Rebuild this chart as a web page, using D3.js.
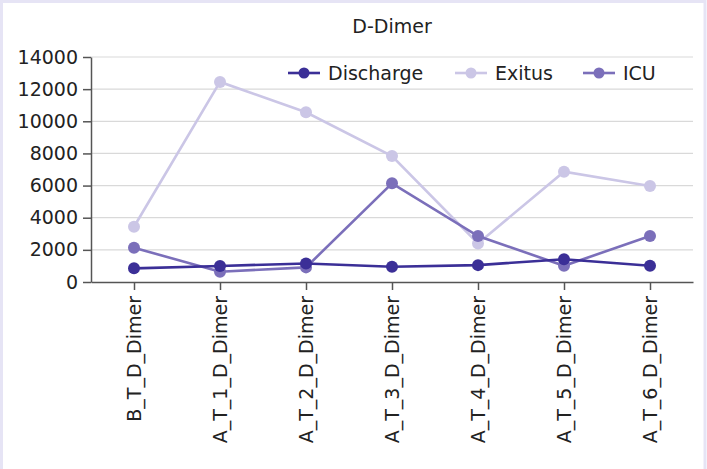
<!DOCTYPE html>
<html>
<head>
<meta charset="utf-8">
<script src="https://cdn.jsdelivr.net/npm/d3@7"></script>
<style>
html,body{margin:0;padding:0;background:#fff;}
svg{display:block;}
text{font-family:"DejaVu Sans",Verdana,sans-serif;fill:#222;}
</style>
</head>
<body>
<svg id="chart" width="707" height="469"></svg>
<script>
const categories = ["B_T_D_Dimer","A_T_1_D_Dimer","A_T_2_D_Dimer","A_T_3_D_Dimer","A_T_4_D_Dimer","A_T_5_D_Dimer","A_T_6_D_Dimer"];
const seriesNames = ["Discharge","Exitus","ICU"];
const discharge = [850, 1000, 1150, 950, 1050, 1420, 1010];
const exitus = [3440, 12450, 10560, 7840, 2400, 6860, 5970];
const icu = [2130, 640, 910, 6140, 2860, 1010, 2860];
const yTicks = [0, 2000, 4000, 6000, 8000, 10000, 12000, 14000];
const colors = ["#3b2f97", "#cbc6e6", "#7b6fba"];
const title = "D-Dimer";

const series = [discharge, exitus, icu];
const svg = d3.select("#chart");
const W = 707, H = 469;
const m = {left: 91, right: 14, top: 57, bottom: 187};

svg.append("rect").attr("x",1.5).attr("y",1.5).attr("width",W-3.5).attr("height",H+10)
  .attr("fill","none").attr("stroke","#e6e4f5").attr("stroke-width",3);

const x = d3.scalePoint().domain(categories).range([m.left, W-m.right]).padding(0.5);
const y = d3.scaleLinear().domain([0,14000]).range([H-m.bottom, m.top]);

svg.append("g").selectAll("line").data(yTicks.filter(d=>d>0)).join("line")
  .attr("x1", m.left).attr("x2", W-m.right)
  .attr("y1", d=>y(d)).attr("y2", d=>y(d))
  .attr("stroke","#d9d9d9").attr("stroke-width",1.2);

const ya = svg.append("g").attr("transform",`translate(${m.left},0)`)
  .call(d3.axisLeft(y).tickValues(yTicks).tickSize(8).tickSizeOuter(0).tickPadding(5).tickFormat(d3.format("d")));
ya.attr("font-size",null).attr("font-family",null);
ya.selectAll("text").style("font-size","19px").attr("fill","#222");
ya.select(".domain").attr("stroke","#555").attr("stroke-width",1.5);
ya.selectAll(".tick line").attr("stroke","#555").attr("stroke-width",1.5);

const xa = svg.append("g").attr("transform",`translate(0,${y(0)})`)
  .call(d3.axisBottom(x).tickSize(8).tickSizeOuter(0).tickPadding(6));
xa.attr("font-size",null).attr("font-family",null);
xa.select(".domain").attr("stroke","#555").attr("stroke-width",1.5);
xa.selectAll(".tick line").attr("stroke","#555").attr("stroke-width",1.5);
xa.selectAll("text").style("font-size","19px").attr("fill","#222")
  .attr("text-anchor","end").attr("dy","0.35em")
  .attr("transform","translate(0,14) rotate(-90)").attr("x",0).attr("y",0);

svg.append("text").attr("x",(m.left + W-m.right)/2).attr("y",33)
  .attr("text-anchor","middle").style("font-size","19px").text(title);

const line = d3.line().x((d,i)=>x(categories[i])).y(d=>y(d));
[1,2,0].forEach(si=>{
  const g = svg.append("g");
  g.append("path").datum(series[si]).attr("d",line).attr("fill","none")
    .attr("stroke",colors[si]).attr("stroke-width",2.6);
  g.selectAll("circle").data(series[si]).join("circle")
    .attr("cx",(d,i)=>x(categories[i])).attr("cy",d=>y(d)).attr("r",6)
    .attr("fill",colors[si]);
});

const legendX = [288, 455, 583];
const legend = svg.append("g");
seriesNames.forEach((name,i)=>{
  const g = legend.append("g").attr("transform",`translate(${legendX[i]},73)`);
  g.append("line").attr("x1",0).attr("x2",32).attr("y1",0).attr("y2",0)
    .attr("stroke",colors[i]).attr("stroke-width",2.6);
  g.append("circle").attr("cx",16).attr("cy",0).attr("r",5.5).attr("fill",colors[i]);
  g.append("text").attr("x",40).attr("y",0).attr("dy","0.35em").style("font-size","19px").text(name);
});
</script>
</body>
</html>
